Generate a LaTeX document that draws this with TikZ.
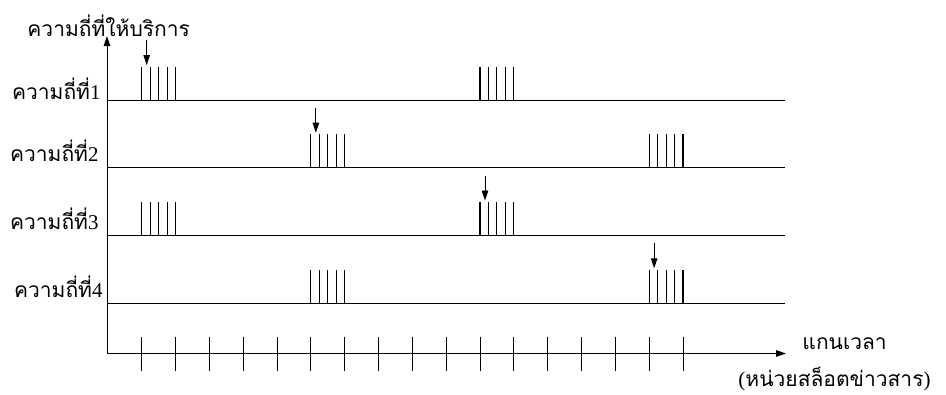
\documentclass[tikz,border=0pt]{standalone}
\usepackage{fontspec}
\setmainfont{Liberation Serif}
\newfontfamily\thaifont[Script=Thai]{Loma}
\usetikzlibrary{arrows.meta}
\begin{document}
\begin{tikzpicture}[x=1pt,y=-1pt,line width=0.9pt,
  lbl/.style={inner sep=0pt,font=\fontsize{21}{24}\selectfont},
  pulse/.style={line width=1.1pt},
  tiparrow/.style={-{Triangle[length=10pt,width=6.5pt]},line width=0.9pt}]
\useasboundingbox (0,0) rectangle (946,394);
% axes
\coordinate (O) at (107,353.5);
\coordinate (ytop) at (107,36);
\coordinate (xend) at (786,353.5);
\draw[tiparrow] (O) -- (ytop);
\draw[tiparrow] (O) -- (xend);
% frequency lines
\foreach \n/\yy in {1/100,2/167.7,3/235.5,4/303.3}{
  \coordinate (f\n s) at (107,\yy);
  \coordinate (f\n e) at (785,\yy);
  \draw (f\n s) -- (f\n e);
}
% ticks
\foreach \i in {0,...,16}{
  \draw ({141.7+33.83*\i},336.5) -- ({141.7+33.83*\i},371);
}
% pulses
\foreach \yy/\i in {100/0,100/10,167.7/5,167.7/15,235.5/0,235.5/10,303.3/5,303.3/15}{
  \foreach \k in {0,...,4}{
    \draw[pulse] ({141.7+33.83*\i+8.46*\k},\yy) -- ++(0,-33.5);
  }
}
% arrows
\foreach \yy/\i in {100/0,167.7/5,235.5/10,303.3/15}{
  \draw[tiparrow] ({141.7+33.83*\i+5},\yy-60) -- ++(0,25);
}
% labels
\node[lbl,anchor=base west] (ttl) at (27,36) {\thaifont ความถี่ที่ให้บริการ};
\node[lbl,anchor=base east] (l1) at (101,99) {{\thaifont ความถี่ที่}1};
\node[lbl,anchor=base east] (l2) at (99,161.5) {{\thaifont ความถี่ที่}2};
\node[lbl,anchor=base east] (l3) at (99,229.5) {{\thaifont ความถี่ที่}3};
\node[lbl,anchor=base east] (l4) at (103,297) {{\thaifont ความถี่ที่}4};
\node[lbl,anchor=base west] (tx) at (802,349) {\thaifont แกนเวลา};
\node[lbl,anchor=base west] (tu) at (738,386) {({\thaifont หน่วยสล็อตข่าวสาร})};
\end{tikzpicture}
\end{document}
